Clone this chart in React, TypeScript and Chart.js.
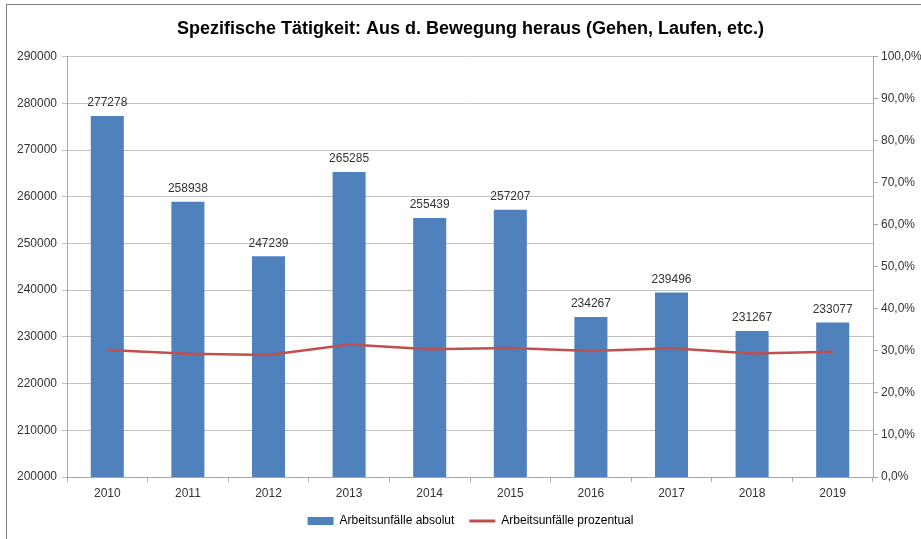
import React, { useEffect, useRef } from "react";
import { Chart, registerables } from "chart.js";

Chart.register(...registerables);

const years = ["2010", "2011", "2012", "2013", "2014", "2015", "2016", "2017", "2018", "2019"];
const absolut = [277278, 258938, 247239, 265285, 255439, 257207, 234267, 239496, 231267, 233077];
const prozent = [30.2, 29.3, 29.0, 31.5, 30.4, 30.7, 30.0, 30.6, 29.4, 29.8];
const leftMin = 200000;
const leftMax = 290000;
const leftStep = 10000;
const rightMin = 0;
const rightMax = 100;
const rightStep = 10;

const titleText = "Spezifische Tätigkeit: Aus d. Bewegung heraus (Gehen, Laufen, etc.)";
const seriesNames = ["Arbeitsunfälle absolut", "Arbeitsunfälle prozentual"];

const FONT = "'Liberation Sans', Arial, sans-serif";

const dataLabels = {
  id: "dataLabels",
  afterDatasetsDraw(chart: any) {
    const ctx = chart.ctx;
    chart.data.datasets.forEach((ds: any, i: number) => {
      if (ds.type !== "bar") return;
      const meta = chart.getDatasetMeta(i);
      ctx.save();
      ctx.font = `12px ${FONT}`;
      ctx.fillStyle = "#333333";
      ctx.textAlign = "center";
      ctx.textBaseline = "bottom";
      meta.data.forEach((el: any, j: number) => {
        ctx.fillText(String(ds.data[j]), el.x, el.y - 7);
      });
      ctx.restore();
    });
  },
};

export default function App() {
  const ref = useRef<HTMLCanvasElement | null>(null);

  useEffect(() => {
    if (!ref.current) return;
    const chart = new Chart(ref.current, {
      type: "bar",
      data: {
        labels: years,
        datasets: [
          {
            type: "bar",
            label: seriesNames[0],
            data: absolut,
            backgroundColor: "#4F81BD",
            borderWidth: 0,
            yAxisID: "y",
            order: 1,
            barPercentage: 0.41,
            categoryPercentage: 1,
          } as any,
          {
            type: "line",
            label: seriesNames[1],
            data: prozent,
            borderColor: "#C0504D",
            backgroundColor: "#C0504D",
            borderWidth: 2.5,
            pointRadius: 0,
            tension: 0,
            yAxisID: "y1",
            order: 0,
          } as any,
        ],
      },
      options: {
        responsive: false,
        animation: false,
        layout: { padding: { left: 0, right: -20, bottom: 2 } },
        plugins: {
          title: {
            display: true,
            text: titleText,
            color: "#000000",
            font: { family: FONT, size: 18, weight: "bold" },
            padding: { top: 18, bottom: 17 },
          },
          legend: {
            position: "bottom",
            labels: {
              color: "#000000",
              font: { family: FONT, size: 12 },
              usePointStyle: true,
              pointStyleWidth: 26,
              boxHeight: 8,
              padding: 15,
              sort: (a: any, b: any) => a.datasetIndex - b.datasetIndex,
              generateLabels: (c: any) => {
                const items = Chart.defaults.plugins.legend.labels.generateLabels(c);
                items.forEach((it: any) => {
                  if (it.datasetIndex === 0) {
                    it.pointStyle = "rect";
                    it.lineWidth = 0;
                    it.fillStyle = "#4F81BD";
                  } else {
                    it.pointStyle = "line";
                    it.lineWidth = 3;
                    it.strokeStyle = "#C0504D";
                  }
                });
                return items;
              },
            },
          },
          tooltip: { enabled: false },
        },
        scales: {
          x: {
            offset: true,
            grid: {
              display: true,
              offset: true,
              drawOnChartArea: false,
              drawTicks: true,
              tickLength: 5,
              color: "#a6a6a6",
            },
            border: { display: true, color: "#a6a6a6" },
            ticks: { color: "#333333", font: { family: FONT, size: 12 }, padding: 4 },
            afterFit: (s: any) => {
              s.height = 23;
            },
          },
          y: {
            position: "left",
            min: leftMin,
            max: leftMax,
            ticks: {
              stepSize: leftStep,
              color: "#333333",
              font: { family: FONT, size: 12 },
              padding: 5,
              callback: (v: any) => String(v),
            },
            grid: { color: "#bfbfbf", drawTicks: true, tickLength: 5 },
            border: { display: true, color: "#a6a6a6" },
            afterFit: (s: any) => {
              s.width = 67;
            },
          },
          y1: {
            position: "right",
            min: rightMin,
            max: rightMax,
            ticks: {
              stepSize: rightStep,
              color: "#333333",
              font: { family: FONT, size: 12 },
              padding: 3,
              callback: (v: any) => Number(v).toFixed(1).replace(".", ",") + "%",
            },
            grid: { drawOnChartArea: false, drawTicks: true, tickLength: 5, color: "#a6a6a6" },
            border: { display: true, color: "#a6a6a6" },
            afterFit: (s: any) => {
              s.width = 68;
            },
          },
        },
      },
      plugins: [dataLabels],
    });
    return () => chart.destroy();
  }, []);

  return (
    <div style={{ position: "fixed", left: 0, top: 0, width: 921, height: 539, background: "#ffffff" }}>
      <canvas ref={ref} width={921} height={539} style={{ position: "absolute", left: 0, top: 0 }} />
      <div
        style={{
          position: "absolute",
          left: 6,
          top: 4,
          right: 0,
          bottom: 0,
          borderLeft: "1px solid #7f7f7f",
          borderTop: "1px solid #7f7f7f",
          pointerEvents: "none",
        }}
      />
    </div>
  );
}
